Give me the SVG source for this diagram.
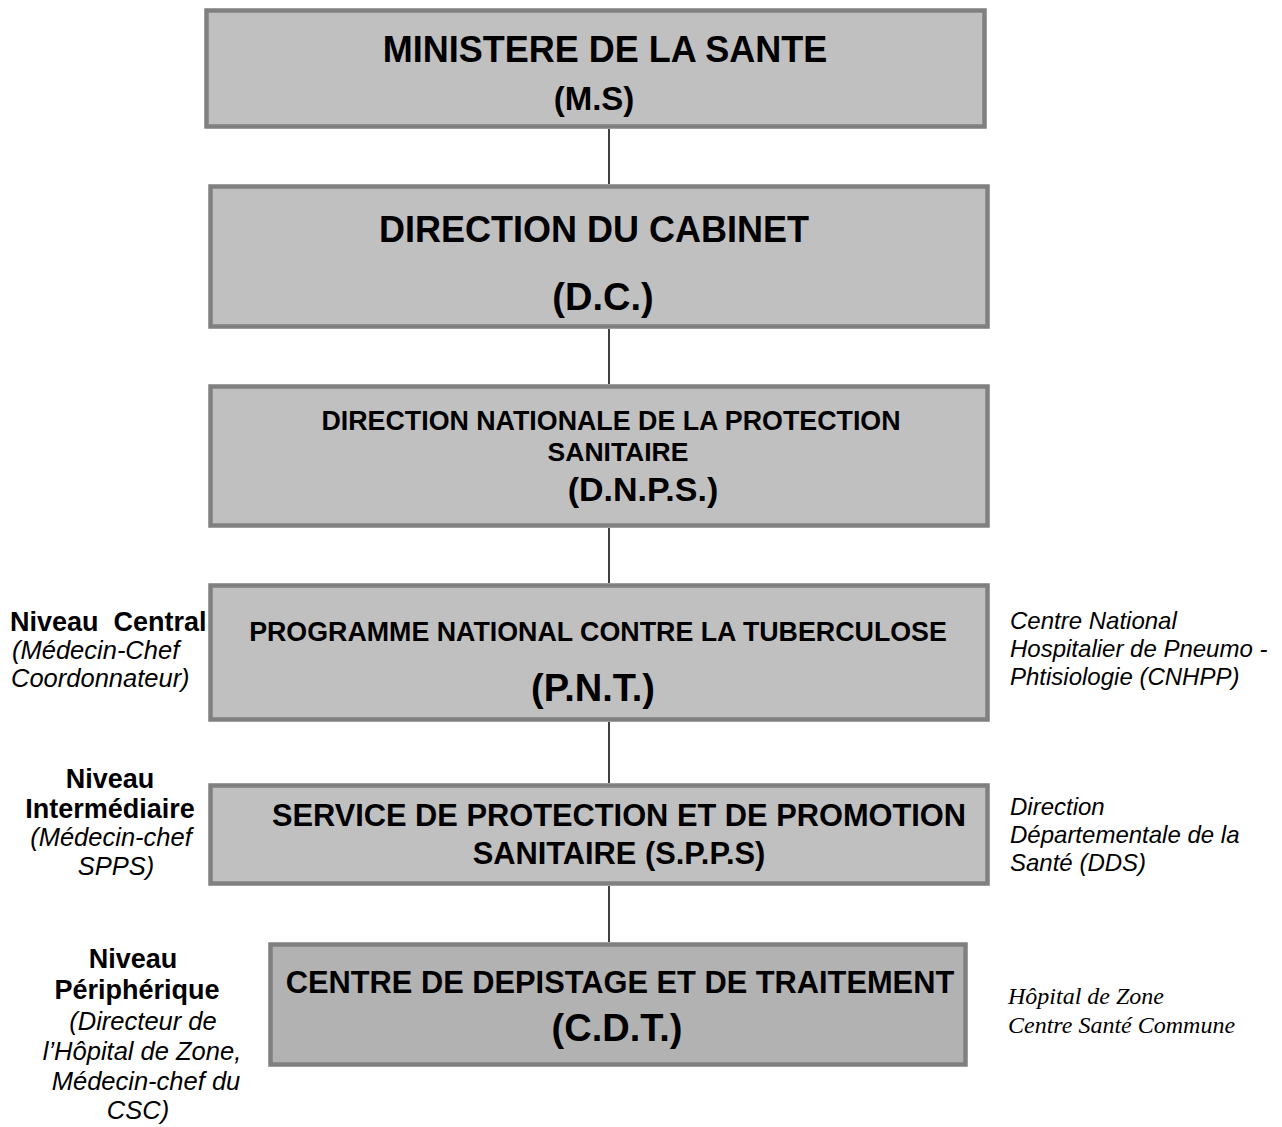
<svg xmlns="http://www.w3.org/2000/svg" width="1282" height="1127" viewBox="0 0 1282 1127">
<style>
.box{fill:#c0c0c0;stroke:#808080;stroke-width:4.5}
.box6{fill:#b2b2b2;stroke:#808080;stroke-width:4.5}
.t{font-family:"Liberation Sans",Arial,sans-serif;font-weight:bold;fill:#000;text-anchor:middle}
.lb{font-family:"Liberation Sans",Arial,sans-serif;font-weight:bold;font-size:27px;fill:#000}
.li{font-family:"Liberation Sans",Arial,sans-serif;font-style:italic;font-size:25.5px;fill:#000}
.ri{font-family:"Liberation Sans",Arial,sans-serif;font-style:italic;font-size:24px;fill:#000}
.rt{font-family:"Liberation Serif","Times New Roman",serif;font-style:italic;font-size:24px;fill:#000}
.c{stroke:#000;stroke-width:1.5;fill:none}
</style>
<rect width="1282" height="1127" fill="#fff"/>
<g id="connectors">
<line class="c" x1="609" y1="129" x2="609" y2="184"/>
<line class="c" x1="609" y1="329" x2="609" y2="384"/>
<line class="c" x1="609" y1="528" x2="609" y2="583"/>
<line class="c" x1="609" y1="722" x2="609" y2="783"/>
<line class="c" x1="609" y1="886" x2="609" y2="942"/>
</g>
<g id="ms">
<rect class="box" x="206.5" y="10.5" width="778" height="116"/>
<text class="t" x="605" y="62" font-size="36">MINISTERE DE LA SANTE</text>
<text class="t" x="594" y="110" font-size="33">(M.S)</text>
</g>
<g id="dc">
<rect class="box" x="210.5" y="186.5" width="777" height="140"/>
<text class="t" x="594" y="242" font-size="36">DIRECTION DU CABINET</text>
<text class="t" x="603" y="310" font-size="38">(D.C.)</text>
</g>
<g id="dnps">
<rect class="box" x="210.5" y="386.5" width="777" height="139"/>
<text class="t" x="611" y="430" font-size="26.8">DIRECTION NATIONALE DE LA PROTECTION</text>
<text class="t" x="618" y="461" font-size="26.5">SANITAIRE</text>
<text class="t" x="643" y="501" font-size="34">(D.N.P.S.)</text>
</g>
<g id="pnt">
<rect class="box" x="210.5" y="585.5" width="777" height="134"/>
<text class="t" x="598" y="641" font-size="26.8">PROGRAMME NATIONAL CONTRE LA TUBERCULOSE</text>
<text class="t" x="593" y="701" font-size="38">(P.N.T.)</text>
</g>
<g id="spps">
<rect class="box" x="210.5" y="785.5" width="777" height="98"/>
<text class="t" x="619" y="826" font-size="30.8">SERVICE DE PROTECTION ET DE PROMOTION</text>
<text class="t" x="619" y="864" font-size="30.8">SANITAIRE (S.P.P.S)</text>
</g>
<g id="cdt">
<rect class="box6" x="270.5" y="944.5" width="695" height="120"/>
<text class="t" x="620" y="993" font-size="30.8">CENTRE DE DEPISTAGE ET DE TRAITEMENT</text>
<text class="t" x="617" y="1041" font-size="38">(C.D.T.)</text>
</g>
<g id="label-central">
<text class="lb" x="10" y="631" xml:space="preserve">Niveau  Central</text>
<text class="li" x="12" y="659">(Médecin-Chef</text>
<text class="li" x="11" y="687">Coordonnateur)</text>
</g>
<g id="label-intermediaire" text-anchor="middle">
<text class="lb" x="110" y="788">Niveau</text>
<text class="lb" x="110" y="818">Intermédiaire</text>
<text class="li" x="111" y="846">(Médecin-chef</text>
<text class="li" x="116" y="875">SPPS)</text>
</g>
<g id="label-peripherique" text-anchor="middle">
<text class="lb" x="133" y="968">Niveau</text>
<text class="lb" x="137" y="999">Périphérique</text>
<text class="li" x="143" y="1030">(Directeur de</text>
<text class="li" x="142" y="1060">l’Hôpital de Zone,</text>
<text class="li" x="146" y="1090">Médecin-chef du</text>
<text class="li" x="138" y="1119">CSC)</text>
</g>
<g id="right-cnhpp">
<text class="ri" x="1010" y="629">Centre National</text>
<text class="ri" x="1010" y="657">Hospitalier de Pneumo -</text>
<text class="ri" x="1010" y="685">Phtisiologie (CNHPP)</text>
</g>
<g id="right-dds">
<text class="ri" x="1010" y="815">Direction</text>
<text class="ri" x="1010" y="843">Départementale de la</text>
<text class="ri" x="1010" y="871">Santé (DDS)</text>
</g>
<g id="right-hz">
<text class="rt" x="1008" y="1004">Hôpital de Zone</text>
<text class="rt" x="1008" y="1033">Centre Santé Commune</text>
</g>
</svg>
